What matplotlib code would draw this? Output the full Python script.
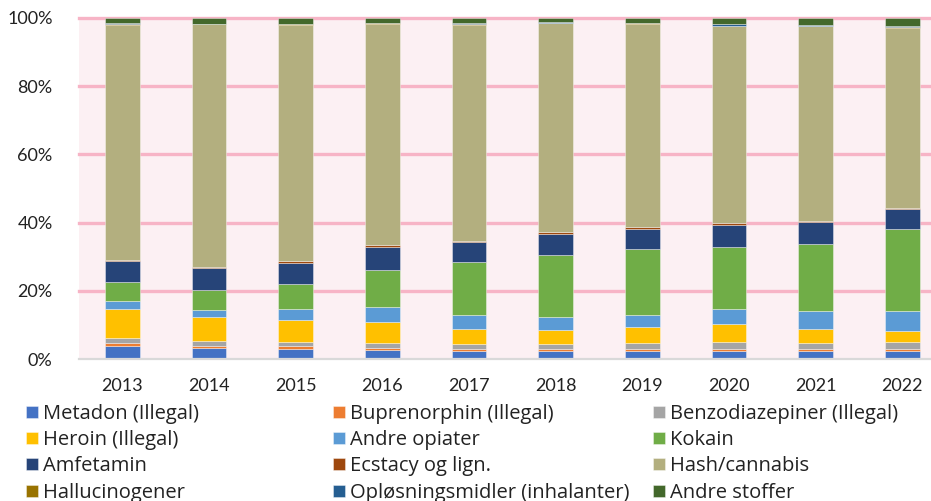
import matplotlib.pyplot as plt
import numpy as np

years = ['2013', '2014', '2015', '2016', '2017', '2018', '2019', '2020', '2021', '2022']

# share of each substance per year, in percent
metadon = [3.9, 3.1, 3.0, 2.6, 2.3, 2.2, 2.3, 2.2, 2.2, 2.2]
buprenorphin = [0.7, 0.8, 0.9, 0.7, 0.7, 0.6, 0.5, 0.6, 0.6, 0.6]
benzo = [1.7, 1.3, 1.2, 1.5, 1.4, 1.6, 1.8, 2.2, 2.0, 2.1]
heroin = [8.4, 7.2, 6.4, 6.1, 4.4, 4.0, 4.8, 5.4, 4.1, 3.4]
andre_opiater = [2.2, 2.1, 3.1, 4.3, 4.1, 3.9, 3.6, 4.2, 5.2, 5.7]
kokain = [5.7, 5.6, 7.4, 10.9, 15.5, 18.3, 19.2, 18.3, 19.6, 24.0]
amfetamin = [6.0, 6.6, 6.1, 6.8, 6.0, 6.0, 6.0, 6.5, 6.4, 6.0]
ecstacy = [0.5, 0.3, 0.7, 0.6, 0.3, 0.5, 0.4, 0.4, 0.3, 0.2]
hash_cannabis = [68.9, 71.1, 69.2, 64.6, 63.3, 61.4, 59.6, 57.8, 57.2, 52.9]
hallucinogener = [0.1, 0.1, 0.1, 0.3, 0.1, 0.1, 0.3, 0.1, 0.1, 0.2]
oploesningsmidler = [0.4, 0.1, 0.2, 0.1, 0.4, 0.2, 0.1, 0.6, 0.3, 0.4]
andre_stoffer = [1.5, 1.7, 1.7, 1.5, 1.5, 1.2, 1.4, 1.7, 2.0, 2.3]

series = [
    ('Metadon (Illegal)', metadon, '#4472C4'),
    ('Buprenorphin (Illegal)', buprenorphin, '#ED7D31'),
    ('Benzodiazepiner (Illegal)', benzo, '#A5A5A5'),
    ('Heroin (Illegal)', heroin, '#FFC000'),
    ('Andre opiater', andre_opiater, '#5B9BD5'),
    ('Kokain', kokain, '#70AD47'),
    ('Amfetamin', amfetamin, '#264478'),
    ('Ecstacy og lign.', ecstacy, '#9E480E'),
    ('Hash/cannabis', hash_cannabis, '#B3AF7F'),
    ('Hallucinogener', hallucinogener, '#997300'),
    ('Opløsningsmidler (inhalanter)', oploesningsmidler, '#255E91'),
    ('Andre stoffer', andre_stoffer, '#43682B'),
]

plt.rcParams['font.family'] = ['Lato', 'DejaVu Sans']

fig = plt.figure(figsize=(9.31, 5.01), dpi=100)
ax = fig.add_axes([79 / 931, 1 - 359 / 501, 1 - 79 / 931, (359 - 18) / 501])
ax.set_facecolor('#FCF0F3')

x = np.arange(len(years))
bottom = np.zeros(len(years))
handles = []
for label, values, color in series:
    b = ax.bar(x, values, width=0.4, bottom=bottom, color=color,
               edgecolor=(1, 1, 1, 0.45), linewidth=0.6, label=label, zorder=3)
    handles.append(b)
    bottom += np.array(values)

for v in [20, 40, 60, 80, 100]:
    ax.axhline(v, color='#F7B4C6', linewidth=2.4, zorder=1, clip_on=False)

ax.set_xlim(-0.5, 9.33)
ax.set_ylim(0, 100)
ax.set_yticks([0, 20, 40, 60, 80, 100])
ax.set_yticklabels(['0%', '20%', '40%', '60%', '80%', '100%'])
ax.set_xticks(x)
ax.set_xticklabels(years)
ax.tick_params(axis='both', length=0, labelsize=13, colors='#222222')
ax.tick_params(axis='y', pad=19)
ax.tick_params(axis='x', pad=14)

for side in ['top', 'right', 'left']:
    ax.spines[side].set_visible(False)
ax.spines['bottom'].set_color('#D9D9D9')
ax.spines['bottom'].set_linewidth(1.6)
ax.spines['bottom'].set_zorder(4)

# legend as three columns, filled row by row like the original
col_x = [26, 333, 653]
for i, cx in enumerate(col_x):
    idx = [i, i + 3, i + 6, i + 9]
    leg = fig.legend([handles[k] for k in idx], [series[k][0] for k in idx],
                     loc='upper left', bbox_to_anchor=(cx / 931, 1 - 404 / 501),
                     frameon=False, prop={'family': ['Open Sans', 'DejaVu Sans'], 'size': 14.5},
                     handlelength=0.58, handleheight=0.55,
                     handletextpad=0.25, labelspacing=0.31, borderpad=0, borderaxespad=0)
    for t in leg.get_texts():
        t.set_color('#222222')

fig.savefig('out.png', dpi=100)
